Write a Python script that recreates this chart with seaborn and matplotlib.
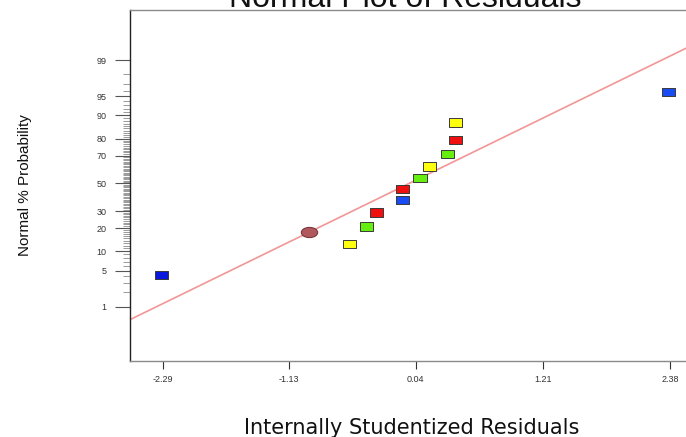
import numpy as np
import pandas as pd
import matplotlib
matplotlib.use("Agg")
import matplotlib.pyplot as plt
from matplotlib.path import Path
from matplotlib.transforms import Affine2D
import seaborn as sns
from statistics import NormalDist

# ---------------- data ----------------
residuals = [-2.30, -0.57, -0.41, -0.32, -0.08, -0.08, 0.08, 0.17, 0.33, 0.41, 0.41, 2.37]
probabilities = [4.2, 12.5, 20.8, 29.2, 37.5, 45.8, 54.2, 62.5, 70.8, 79.2, 87.5, 95.8]
groups = ["navy", "yellow", "green", "red", "blue", "red", "green", "yellow", "green", "red", "yellow", "blue"]

special_residual = [-0.94]
special_probability = [17.8]

fit_x = [-2.59, 2.56]
fit_slope = 1.0
fit_intercept = 0.02

x_ticks = [-2.29, -1.13, 0.04, 1.21, 2.38]
y_tick_pcts = [1, 5, 10, 20, 30, 50, 70, 80, 90, 95, 99]

palette = {"navy": "#0a18dc", "blue": "#1a4cf5", "yellow": "#ffff10",
           "green": "#66ee10", "red": "#f01010"}

# ---------------- helpers ----------------
nd = NormalDist()
def z_of(p):
    return nd.inv_cdf(p / 100.0)

df = pd.DataFrame({"residual": residuals,
                   "z": [z_of(p) for p in probabilities],
                   "group": groups})
sp = pd.DataFrame({"residual": special_residual,
                   "z": [z_of(p) for p in special_probability]})
fit_df = pd.DataFrame({"x": fit_x,
                       "z": [fit_intercept + fit_slope * v for v in fit_x]})

sns.set_style("white")
plt.rcParams["font.family"] = ["Liberation Sans", "DejaVu Sans"]

fig = plt.figure(figsize=(6.86, 4.37), dpi=100)
ax = fig.add_axes([130 / 686, 1 - 361 / 437, 1 - 130 / 686 + 0.005, 351 / 437])

# fitted line
sns.lineplot(data=fit_df, x="x", y="z", ax=ax, color="#f29696", linewidth=1.2,
             zorder=1, legend=False)

# rectangle marker (wider than tall)
rect = Path([(-1.6, -1), (1.6, -1), (1.6, 1), (-1.6, 1), (-1.6, -1)],
            [Path.MOVETO, Path.LINETO, Path.LINETO, Path.LINETO, Path.CLOSEPOLY])
sns.scatterplot(data=df, x="residual", y="z", hue="group", palette=palette,
                marker=rect, s=90, edgecolor="#3a3a3a", linewidth=0.7,
                legend=False, ax=ax, zorder=3)

# ellipse marker
circ = Path.unit_circle()
ell = circ.transformed(Affine2D().scale(1.6, 1.0))
sns.scatterplot(data=sp, x="residual", y="z", color="#b0585e", marker=ell,
                s=140, edgecolor="#6e2e32", linewidth=0.7, legend=False,
                ax=ax, zorder=4)

ax.set_xlim(-2.59, 2.56)
ax.set_ylim(-3.35, 3.27)

# ticks
ax.set_xticks(x_ticks)
ax.set_xticklabels([f"{v:.2f}" for v in x_ticks])
ax.set_yticks([z_of(p) for p in y_tick_pcts])
ax.set_yticklabels([str(p) for p in y_tick_pcts])
minor = [z_of(p) for p in range(1, 100) if p not in y_tick_pcts]
ax.set_yticks(minor, minor=True)

ax.tick_params(axis="y", which="major", direction="out", length=11, width=0.8,
               color="#555555", labelsize=6.5, labelcolor="#333333", pad=6, left=True)
ax.tick_params(axis="y", which="minor", direction="out", length=5, width=0.6,
               color="#8a8a8a", left=True)
ax.tick_params(axis="x", which="major", direction="out", length=6, width=0.8,
               color="#333333", labelsize=6.5, labelcolor="#333333", pad=4, bottom=True)

for s in ["top", "bottom"]:
    ax.spines[s].set_color("#8a8a8a")
    ax.spines[s].set_linewidth(1.0)
ax.spines["left"].set_color("#222222")
ax.spines["left"].set_linewidth(1.0)
ax.spines["right"].set_visible(False)

ax.set_xlabel("")
ax.set_ylabel("")

fig.text(405 / 686, 1 - 7 / 437, "Normal Plot of Residuals", ha="center",
         va="baseline", fontsize=23, color="#111111")
fig.text(412 / 686, 1 - 428 / 437, "Internally Studentized Residuals",
         ha="center", va="center", fontsize=15, color="#111111",
         family=["DejaVu Sans"])
fig.text(25 / 686, 1 - 185 / 437, "Normal % Probability", ha="center",
         va="center", rotation=90, fontsize=11, color="#111111",
         family=["Liberation Sans Narrow", "Liberation Sans", "DejaVu Sans"])

fig.savefig("out.png", dpi=100, facecolor="white")
